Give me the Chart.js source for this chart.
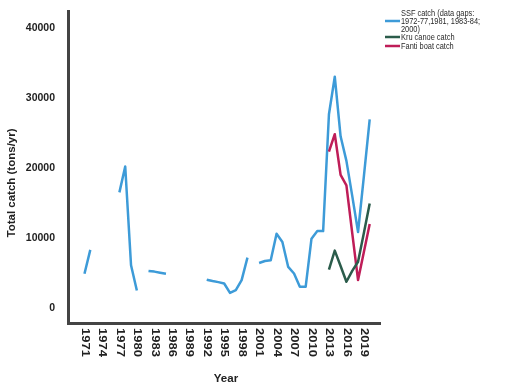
<!DOCTYPE html>
<html>
<head>
<meta charset="utf-8">
<script src="https://cdn.jsdelivr.net/npm/chart.js@4.4.1/dist/chart.umd.min.js"></script>
<style>
  html, body { margin: 0; padding: 0; background: #fff; }
</style>
</head>
<body>
<canvas id="catchChart" width="507" height="386"></canvas>
<script>
// years on the x axis, one entry per year (null = data gap)
const years = [1971, 1972, 1973, 1974, 1975, 1976, 1977, 1978, 1979, 1980,
  1981, 1982, 1983, 1984, 1985, 1986, 1987, 1988, 1989, 1990,
  1991, 1992, 1993, 1994, 1995, 1996, 1997, 1998, 1999, 2000,
  2001, 2002, 2003, 2004, 2005, 2006, 2007, 2008, 2009, 2010,
  2011, 2012, 2013, 2014, 2015, 2016, 2017, 2018, 2019, 2020];

const ssfCatch = [4900, 8300, null, null, null, null, 16500, 20200, 6100, 2500,
  null, 5300, 5200, 5050, 4900, null, null, null, null, null,
  null, 4050, 3850, 3700, 3500, 2170, 2560, 3980, 7200, null,
  6430, 6720, 6820, 10600, 9420, 5870, 4930, 3030, 3030, 9900,
  10980, 10980, 27650, 33000, 24500, 21000, 16000, 10850, 18800, 26900];

const boatYears = [2013, 2014, 2015, 2016, 2017, 2018, 2019, 2020];
const kruCatch = [5500, 8200, 6000, 3750, 5300, 6600, 10700, 14900];
const fantiCatch = [22300, 24800, 19000, 17500, 10700, 4000, 8000, 12000];

const xTickYears = [1971, 1974, 1977, 1980, 1983, 1986, 1989, 1992, 1995,
  1998, 2001, 2004, 2007, 2010, 2013, 2016, 2019];
const yTicks = [0, 10000, 20000, 30000, 40000];

const ssfLabel = ['SSF catch (data gaps:', '1972-77,1981, 1983-84;', '2000)'];
const kruLabel = 'Kru canoe catch';
const fantiLabel = 'Fanti boat catch';

const ssfColor = '#3d9bd8';
const kruColor = '#2b5c4b';
const fantiColor = '#bf1d58';

const FONT = '"Liberation Sans", Arial, sans-serif';

function toPoints(xs, ys) {
  return xs.map((x, i) => ({ x: x, y: ys[i] }));
}

// draws one string with an optional rotation and stretch
function drawText(ctx, text, x, y, font, angle, sx, align) {
  ctx.save();
  ctx.translate(x, y);
  ctx.rotate(angle);
  ctx.scale(sx, 1);
  ctx.font = font;
  ctx.textAlign = align;
  ctx.textBaseline = 'middle';
  ctx.fillText(text, 0, 0);
  ctx.restore();
}

const textPlugin = {
  id: 'textPlugin',
  afterDraw(chart) {
    const ctx = chart.ctx;
    const xs = chart.scales.x;
    ctx.save();
    ctx.fillStyle = '#222';

    // x tick labels read top to bottom
    xTickYears.forEach(yr => {
      drawText(ctx, String(yr), xs.getPixelForValue(yr), 328,
        'bold 10px ' + FONT, Math.PI / 2, 1.3, 'left');
    });

    // axis titles
    drawText(ctx, 'Year', 226, 379, 'bold 11px ' + FONT, 0, 1.05, 'center');
    drawText(ctx, 'Total catch (tons/yr)', 12, 183, 'bold 10px ' + FONT, -Math.PI / 2, 1.15, 'center');

    // legend
    const legendFont = '9.5px ' + FONT;
    const rows = [
      { lines: ssfLabel, color: ssfColor, y: 13 },
      { lines: [kruLabel], color: kruColor, y: 37 },
      { lines: [fantiLabel], color: fantiColor, y: 46 }
    ];
    rows.forEach(r => {
      const mid = r.y + (r.lines.length - 1) * 4;
      ctx.strokeStyle = r.color;
      ctx.lineWidth = 2.5;
      ctx.beginPath();
      ctx.moveTo(385, mid);
      ctx.lineTo(400, mid);
      ctx.stroke();
      ctx.fillStyle = '#2a2a2a';
      r.lines.forEach((t, i) => {
        drawText(ctx, t, 401, r.y + i * 8, legendFont, 0, 0.78, 'left');
      });
    });
    ctx.restore();
  }
};

new Chart(document.getElementById('catchChart'), {
  type: 'line',
  data: {
    datasets: [
      {
        label: ssfLabel.join(' '),
        data: toPoints(years, ssfCatch),
        borderColor: ssfColor,
        borderWidth: 2.5,
        pointRadius: 0,
        tension: 0,
        spanGaps: false,
        order: 3
      },
      {
        label: kruLabel,
        data: toPoints(boatYears, kruCatch),
        borderColor: kruColor,
        borderWidth: 2.5,
        pointRadius: 0,
        tension: 0,
        order: 1
      },
      {
        label: fantiLabel,
        data: toPoints(boatYears, fantiCatch),
        borderColor: fantiColor,
        borderWidth: 2.5,
        pointRadius: 0,
        tension: 0,
        order: 2
      }
    ]
  },
  options: {
    responsive: false,
    animation: false,
    devicePixelRatio: 1,
    layout: { padding: { left: 0, top: 10, right: 127, bottom: 0 } },
    plugins: {
      legend: { display: false },
      tooltip: { enabled: false }
    },
    elements: { line: { borderJoinStyle: 'round', borderCapStyle: 'butt' } },
    scales: {
      x: {
        type: 'linear',
        min: 1968.17,
        max: 2021.77,
        grid: { display: false },
        border: { display: true, color: '#444', width: 3 },
        ticks: { display: false },
        afterFit(scale) { scale.height = 63; }
      },
      y: {
        min: -2130,
        max: 42330,
        grid: { display: false },
        border: { display: true, color: '#444', width: 3 },
        afterBuildTicks(scale) { scale.ticks = yTicks.map(v => ({ value: v })); },
        ticks: {
          padding: 5,
          color: '#222',
          font: { family: FONT, size: 10.5, weight: 'bold' },
          callback: v => String(v)
        },
        afterFit(scale) { scale.width = 68; }
      }
    }
  },
  plugins: [textPlugin]
});
</script>
</body>
</html>
